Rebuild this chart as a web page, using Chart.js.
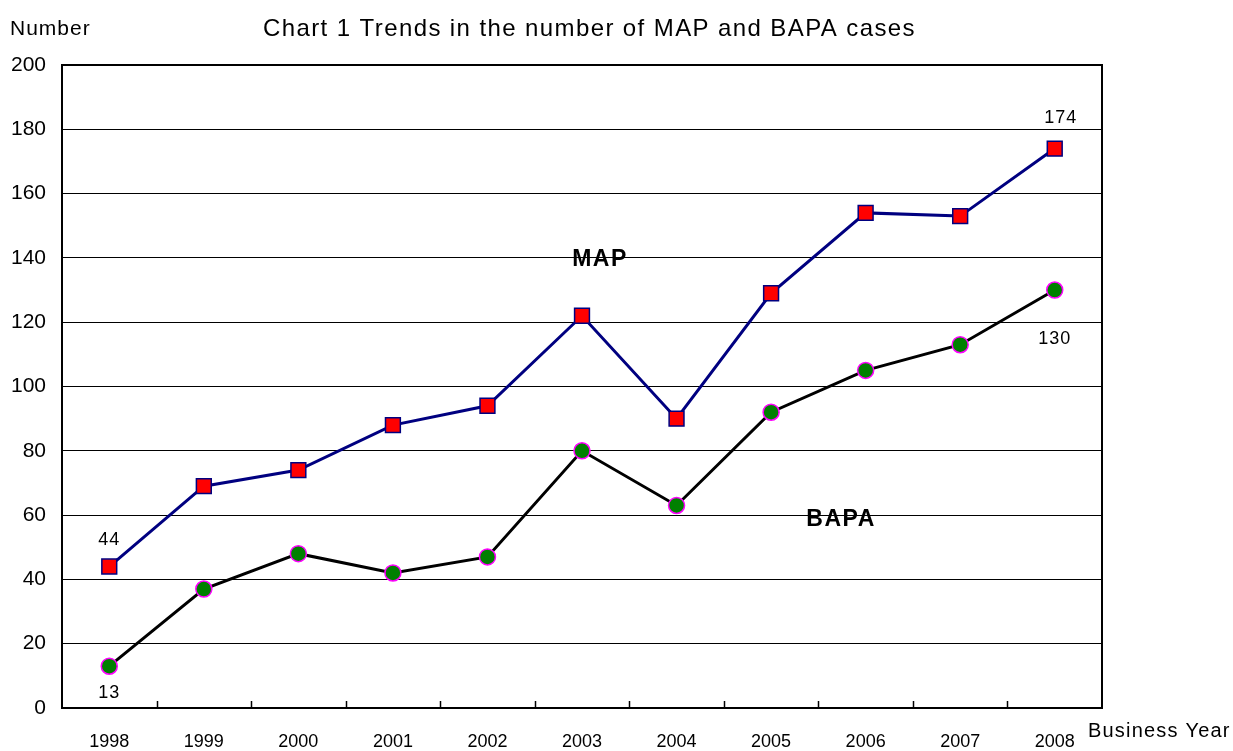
<!DOCTYPE html>
<html>
<head>
<meta charset="utf-8">
<script src="https://cdn.jsdelivr.net/npm/chart.js@4.4.0/dist/chart.umd.min.js"></script>
<style>
    body { margin: 0; background: #ffffff; }
    #wrap { width: 1233px; height: 751px; }
</style>
</head>
<body>
<div id="wrap"><canvas id="chart" width="1233" height="751"></canvas></div>
<script>
// Business years on the x axis
let years = ['1998', '1999', '2000', '2001', '2002', '2003', '2004', '2005', '2006', '2007', '2008'];

// Number of cases per year
let mapCases = [44, 69, 74, 88, 94, 122, 90, 129, 154, 153, 174];
let bapaCases = [13, 37, 48, 42, 47, 80, 63, 92, 105, 113, 130];

// y axis ticks
let yTicks = [0, 20, 40, 60, 80, 100, 120, 140, 160, 180, 200];

// Series names placed inside the plot (category index, value)
let seriesNames = ['MAP', 'BAPA'];
let seriesNamePos = [[5.19, 139.3], [7.74, 58.5]];

let fontName = '"Liberation Sans", Arial, sans-serif';

// Helper: draw text with some extra letter spacing (the original font is wider)
function spacedText(ctx, text, x, y, spacing) {
    ctx.letterSpacing = spacing + 'px';
    ctx.fillText(text, x, y);
    ctx.letterSpacing = '0px';
}

// Draws the frame, inner tick marks and all the loose text
let extrasPlugin = {
    id: 'extras',
    afterDraw(chart) {
        let ctx = chart.ctx;
        let area = chart.chartArea;
        let x = chart.scales.x;
        let y = chart.scales.y;

        ctx.save();

        // Plot frame
        ctx.strokeStyle = '#000000';
        ctx.lineWidth = 2;
        ctx.strokeRect(area.left, area.top, area.right - area.left, area.bottom - area.top);

        // Small upward ticks between the categories
        ctx.lineWidth = 1.5;
        for (let i = 1; i < years.length; i++) {
            let tx = Math.round((x.getPixelForValue(i - 1) + x.getPixelForValue(i)) / 2) + 0.5;
            ctx.beginPath();
            ctx.moveTo(tx, area.bottom);
            ctx.lineTo(tx, area.bottom - 7);
            ctx.stroke();
        }

        ctx.fillStyle = '#000000';
        ctx.textBaseline = 'alphabetic';

        // Title and axis names
        ctx.textAlign = 'left';
        ctx.font = '21px ' + fontName;
        spacedText(ctx, 'Number', 10, 35, 1);
        ctx.font = '24px ' + fontName;
        spacedText(ctx, 'Chart 1 Trends in the number of MAP and BAPA cases', 263, 36, 1.4);
        ctx.font = '20px ' + fontName;
        spacedText(ctx, 'Business Year', 1088, 737, 1.2);

        // Value labels on the first and last points
        ctx.textAlign = 'center';
        ctx.textBaseline = 'middle';
        ctx.font = '18px ' + fontName;
        let last = years.length - 1;
        spacedText(ctx, String(mapCases[0]), x.getPixelForValue(0), y.getPixelForValue(mapCases[0]) - 27, 1);
        spacedText(ctx, String(bapaCases[0]), x.getPixelForValue(0), y.getPixelForValue(bapaCases[0]) + 27, 1);
        spacedText(ctx, String(mapCases[last]), x.getPixelForValue(last) + 6, y.getPixelForValue(mapCases[last]) - 31, 1);
        spacedText(ctx, String(bapaCases[last]), x.getPixelForValue(last), y.getPixelForValue(bapaCases[last]) + 49, 1);

        // Series names
        ctx.font = 'bold 23px ' + fontName;
        for (let i = 0; i < seriesNames.length; i++) {
            let p = seriesNamePos[i];
            spacedText(ctx, seriesNames[i], x.getPixelForValue(p[0]), y.getPixelForValue(p[1]), 1.5);
        }

        ctx.restore();
    }
};

let ctx = document.getElementById('chart');

let lineChart = new Chart(ctx, {
    type: 'line',
    data: {
        labels: years,
        datasets: [
            {
                label: 'MAP',
                data: mapCases,
                borderColor: '#000080',
                borderWidth: 3,
                pointStyle: 'rect',
                pointRadius: 10.5,
                pointBackgroundColor: '#ff0000',
                pointBorderColor: '#000080',
                pointBorderWidth: 1.5,
                tension: 0
            },
            {
                label: 'BAPA',
                data: bapaCases,
                borderColor: '#000000',
                borderWidth: 3,
                pointStyle: 'circle',
                pointRadius: 8,
                pointBackgroundColor: '#008000',
                pointBorderColor: '#ff00ff',
                pointBorderWidth: 1.5,
                tension: 0
            }
        ]
    },
    options: {
        responsive: false,
        animation: false,
        layout: {
            padding: { top: 65, right: 131, bottom: 0, left: 0 }
        },
        plugins: {
            legend: { display: false },
            title: { display: false },
            tooltip: { enabled: false }
        },
        scales: {
            x: {
                type: 'category',
                offset: true,
                grid: { display: false, drawTicks: false },
                border: { display: false },
                ticks: {
                    color: '#000000',
                    padding: 23,
                    maxRotation: 0,
                    autoSkip: false,
                    font: { family: fontName, size: 18 }
                },
                afterFit(scale) { scale.height = 43; }
            },
            y: {
                min: 0,
                max: 200,
                afterBuildTicks(scale) {
                    scale.ticks = yTicks.map(v => ({ value: v }));
                },
                grid: { color: '#000000', lineWidth: 1, drawTicks: false },
                border: { display: false },
                ticks: {
                    color: '#000000',
                    padding: 16,
                    font: { family: fontName, size: 21 }
                },
                afterFit(scale) { scale.width = 62; }
            }
        }
    },
    plugins: [extrasPlugin]
});
</script>
</body>
</html>
